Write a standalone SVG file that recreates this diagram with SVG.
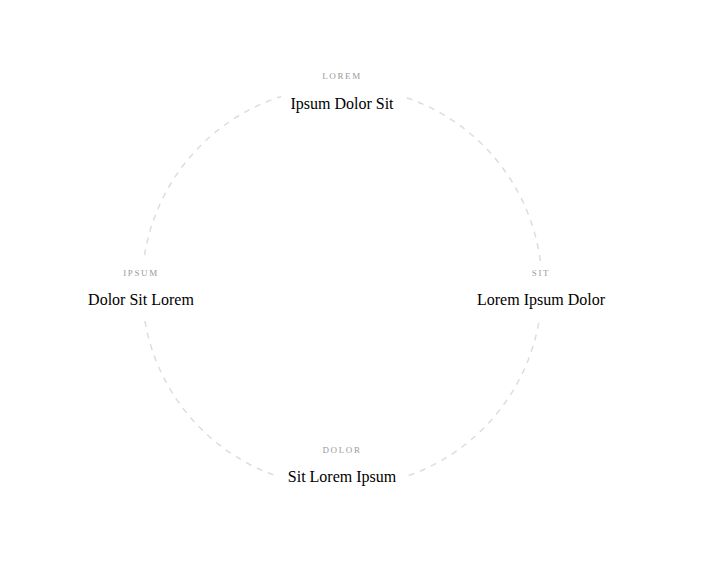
<svg xmlns="http://www.w3.org/2000/svg" width="703" height="567" viewBox="0 0 703 567">
<style>
.ring{fill:none;stroke:#dddddd;stroke-width:1.5;stroke-dasharray:6 6}
.bg{fill:#ffffff}
.cap{font-family:"Liberation Serif",serif;font-size:9px;letter-spacing:1.6px;fill:#9a9a9a;text-anchor:middle}
.main{font-family:"Liberation Serif",serif;font-size:16px;fill:#000;text-anchor:middle}
</style>
<rect width="703" height="567" fill="#fff"/>
<g id="connectors">
<circle class="ring" cx="342" cy="287" r="200"/>
</g>
<g id="node-top">
<rect class="bg" x="281" y="62" width="123" height="56"/>
<text class="cap" x="342" y="78.5">LOREM</text>
<text class="main" x="342" y="108.5">Ipsum Dolor Sit</text>
</g>
<g id="node-left">
<rect class="bg" x="80" y="261" width="124" height="60"/>
<text class="cap" x="141" y="275.5">IPSUM</text>
<text class="main" x="141" y="305">Dolor Sit Lorem</text>
</g>
<g id="node-right">
<rect class="bg" x="470" y="261" width="144" height="60"/>
<text class="cap" x="541" y="275.5">SIT</text>
<text class="main" x="541" y="305">Lorem Ipsum Dolor</text>
</g>
<g id="node-bottom">
<rect class="bg" x="279" y="437" width="126" height="56"/>
<text class="cap" x="342" y="452.5">DOLOR</text>
<text class="main" x="342" y="481.5">Sit Lorem Ipsum</text>
</g>
</svg>
